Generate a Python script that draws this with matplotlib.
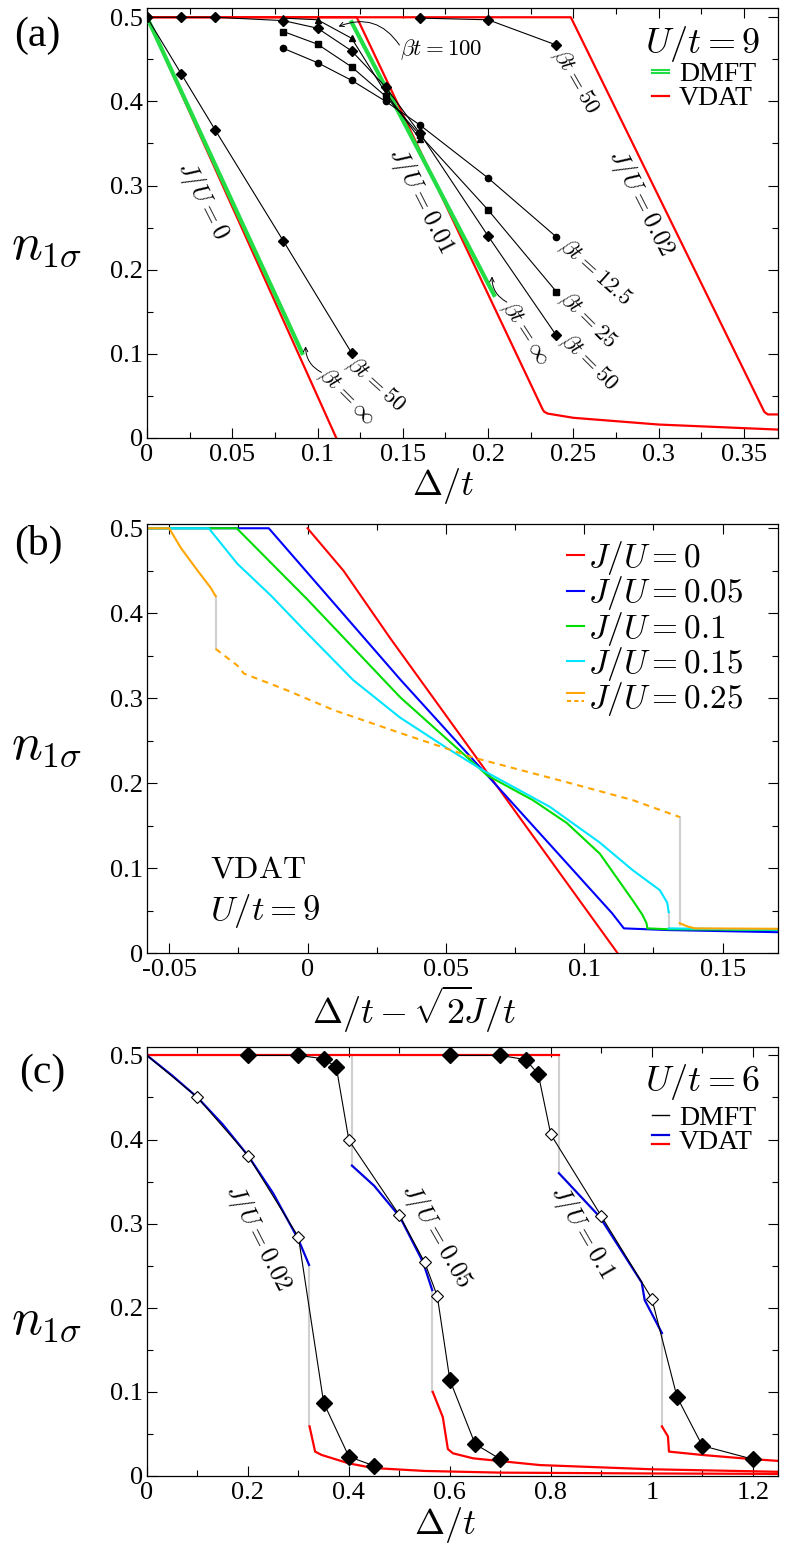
import numpy as np
import matplotlib
matplotlib.use('Agg')
import matplotlib.pyplot as plt
from matplotlib.lines import Line2D
from matplotlib.legend_handler import HandlerBase
from matplotlib.ticker import MultipleLocator, FuncFormatter

plt.rcParams['font.family'] = ['Liberation Serif', 'DejaVu Serif']
plt.rcParams['mathtext.fontset'] = 'cm'

# ---------------- panel (a): U/t = 9 ----------------
# VDAT
a_vdat_0_x = [0.0, 0.111]
a_vdat_0_y = [0.5, 0.0]
a_vdat_001_x = [0.0, 0.123, 0.232, 0.233, 0.235, 0.25, 0.3, 0.37]
a_vdat_001_y = [0.5, 0.5, 0.034, 0.031, 0.029, 0.024, 0.016, 0.010]
a_vdat_002_x = [0.0, 0.2485, 0.362, 0.364, 0.37]
a_vdat_002_y = [0.5, 0.5, 0.031, 0.028, 0.028]
# DMFT beta t = inf
a_dmft_inf_0_x = [0.0, 0.091]
a_dmft_inf_0_y = [0.5, 0.101]
a_dmft_inf_001_x = [0.12, 0.2035]
a_dmft_inf_001_y = [0.494, 0.170]
# DMFT finite temperature
a_b50_0_x = [0.0, 0.02, 0.04, 0.08, 0.12]
a_b50_0_y = [0.5, 0.433, 0.366, 0.234, 0.101]
a_b50_001_x = [0.0, 0.02, 0.04, 0.08, 0.10, 0.12, 0.14, 0.16, 0.20, 0.24]
a_b50_001_y = [0.5, 0.5, 0.5, 0.496, 0.487, 0.460, 0.417, 0.362, 0.240, 0.122]
a_b25_001_x = [0.08, 0.10, 0.12, 0.14, 0.16, 0.20, 0.24]
a_b25_001_y = [0.483, 0.468, 0.441, 0.406, 0.360, 0.271, 0.174]
a_b125_001_x = [0.08, 0.10, 0.12, 0.14, 0.16, 0.20, 0.24]
a_b125_001_y = [0.463, 0.446, 0.425, 0.400, 0.372, 0.309, 0.239]
a_b100_001_x = [0.08, 0.10, 0.12, 0.14, 0.16]
a_b100_001_y = [0.499, 0.497, 0.475, 0.410, 0.355]
a_b50_002_x = [0.16, 0.20, 0.24]
a_b50_002_y = [0.499, 0.497, 0.467]

# ---------------- panel (b): VDAT, U/t = 9 ----------------
b_red_x = [0.0, 0.013, 0.03, 0.112]
b_red_y = [0.5, 0.45, 0.37, 0.0]
b_blue_x = [-0.06, -0.014, 0.0335, 0.065, 0.110, 0.1143, 0.13, 0.17]
b_blue_y = [0.5, 0.5, 0.322, 0.209, 0.047, 0.029, 0.027, 0.0245]
b_green_x = [-0.06, -0.0256, 0.0, 0.0335, 0.065, 0.0814, 0.0937, 0.1056, 0.1175,
             0.121, 0.1225, 0.1228, 0.13, 0.17]
b_green_y = [0.5, 0.5, 0.416, 0.301, 0.209, 0.180, 0.153, 0.117, 0.062,
             0.045, 0.035, 0.029, 0.028, 0.027]
b_cyan_x = [-0.06, -0.0357, -0.0253, -0.0133, 0.0, 0.0166, 0.0335, 0.0505, 0.0634,
            0.0876, 0.1056, 0.1175, 0.1273, 0.130, 0.1305]
b_cyan_y = [0.5, 0.5, 0.458, 0.421, 0.376, 0.321, 0.277, 0.241, 0.215,
            0.172, 0.130, 0.0975, 0.074, 0.059, 0.048]
b_cyan_tail_x = [0.1305, 0.17]
b_cyan_tail_y = [0.029, 0.0275]
b_or_top_x = [-0.06, -0.050, -0.0458, -0.0397, -0.035, -0.0332]
b_or_top_y = [0.5, 0.5, 0.477, 0.450, 0.430, 0.420]
b_or_mid_x = [-0.0332, -0.0252, -0.023, -0.0072, 0.0094, 0.0335, 0.060, 0.0937, 0.1175, 0.1345]
b_or_mid_y = [0.358, 0.338, 0.329, 0.309, 0.286, 0.259, 0.230, 0.201, 0.180, 0.160]
b_or_low_x = [0.1345, 0.1375, 0.14, 0.17]
b_or_low_y = [0.035, 0.031, 0.029, 0.0285]
b_jumps = [(0.1305, 0.048, 0.029), (-0.0332, 0.420, 0.358), (0.1345, 0.160, 0.033)]

# ---------------- panel (c): U/t = 6 ----------------
c_red_top_x = [0.0, 0.816]
c_red_top_y = [0.5, 0.5]
c_blue_002_x = [0.0, 0.05, 0.1, 0.15, 0.2, 0.25, 0.3, 0.321]
c_blue_002_y = [0.5, 0.476, 0.450, 0.418, 0.381, 0.336, 0.281, 0.251]
c_red_002_x = [0.322, 0.333, 0.346, 0.4, 0.448, 0.55, 0.7, 1.0, 1.25]
c_red_002_y = [0.059, 0.029, 0.025, 0.015, 0.0095, 0.006, 0.004, 0.003, 0.0025]
c_blue_005_x = [0.406, 0.45, 0.501, 0.547, 0.565]
c_blue_005_y = [0.369, 0.345, 0.308, 0.254, 0.221]
c_red_005_x = [0.566, 0.586, 0.596, 0.606, 0.646, 0.778, 1.0, 1.25]
c_red_005_y = [0.1, 0.070, 0.032, 0.027, 0.021, 0.013, 0.008, 0.005]
c_blue_01_x = [0.816, 0.897, 0.980, 0.986, 1.020]
c_blue_01_y = [0.360, 0.308, 0.230, 0.209, 0.170]
c_red_01_x = [1.020, 1.032, 1.034, 1.1, 1.2, 1.25]
c_red_01_y = [0.059, 0.047, 0.029, 0.025, 0.020, 0.018]
c_jumps = [(0.321, 0.251, 0.059), (0.406, 0.5, 0.369), (0.565, 0.221, 0.1),
           (0.816, 0.5, 0.360), (1.020, 0.170, 0.059)]
# DMFT (open = points near the VDAT paramagnetic branch)
c_d002_x = [0.0, 0.1, 0.2, 0.3, 0.35, 0.4, 0.45]
c_d002_y = [0.5, 0.45, 0.381, 0.284, 0.087, 0.023, 0.012]
c_d002_open = [1, 2, 3]
c_d002_fill = [4, 5, 6]
c_d005_x = [0.2, 0.3, 0.35, 0.375, 0.4, 0.5, 0.55, 0.575, 0.6, 0.65, 0.7]
c_d005_y = [0.5, 0.5, 0.496, 0.486, 0.399, 0.31, 0.254, 0.214, 0.114, 0.038, 0.020]
c_d005_open = [4, 5, 6, 7]
c_d005_fill = [0, 1, 2, 3, 8, 9, 10]
c_d01_x = [0.6, 0.7, 0.75, 0.775, 0.8, 0.9, 1.0, 1.05, 1.1, 1.2]
c_d01_y = [0.5, 0.5, 0.495, 0.478, 0.406, 0.309, 0.211, 0.094, 0.036, 0.020]
c_d01_open = [4, 5, 6]
c_d01_fill = [0, 1, 2, 3, 7, 8, 9]


class StackHandler(HandlerBase):
    # draws the lines of a tuple handle one above the other
    def __init__(self, gap):
        HandlerBase.__init__(self)
        self.gap = gap

    def create_artists(self, legend, orig_handle, xdescent, ydescent, width,
                       height, fontsize, trans):
        n = len(orig_handle)
        arts = []
        for i, h in enumerate(orig_handle):
            yy = height / 2.0 - ydescent + ((n - 1) / 2.0 - i) * self.gap
            ln = Line2D([-xdescent, width - xdescent], [yy, yy])
            ln.update_from(h)
            ln.set_transform(trans)
            arts.append(ln)
        return arts


fmt = FuncFormatter(lambda v, p: '%g' % round(v, 4))


def style(ax, xmaj, xmin, xlim, ylim):
    ax.set_xlim(*xlim)
    ax.set_ylim(*ylim)
    ax.xaxis.set_major_locator(MultipleLocator(xmaj))
    ax.xaxis.set_minor_locator(MultipleLocator(xmin))
    ax.yaxis.set_major_locator(MultipleLocator(0.1))
    ax.yaxis.set_minor_locator(MultipleLocator(0.05))
    ax.xaxis.set_major_formatter(fmt)
    ax.yaxis.set_major_formatter(fmt)
    ax.tick_params(which='both', direction='in', top=True, right=True, width=0.8)
    ax.tick_params(which='major', length=7.5, labelsize=19)
    ax.tick_params(axis='x', which='major', pad=4)
    ax.tick_params(axis='y', which='major', pad=3)
    ax.tick_params(which='minor', length=4)
    for s in ax.spines.values():
        s.set_linewidth(0.9)


fig = plt.figure(figsize=(7.88, 15.59), dpi=100)
L, W = 147 / 788., 631 / 788.
JFS, BFS, XFS = 18, 16.5, 26

# ================= (a) =================
ax = fig.add_axes([L, 1 - 438 / 1559., W, 430 / 1559.])
style(ax, 0.05, 0.025, (0, 0.37), (0, 0.511))
red, grn = '#ff0000', '#22dd44'
ax.plot(a_vdat_0_x, a_vdat_0_y, color=red, lw=1.6, zorder=2)
ax.plot(a_vdat_001_x, a_vdat_001_y, color=red, lw=1.6, zorder=2)
ax.plot(a_vdat_002_x, a_vdat_002_y, color=red, lw=1.6, zorder=2)
ax.plot(a_dmft_inf_0_x, a_dmft_inf_0_y, color=grn, lw=3, zorder=3)
ax.plot(a_dmft_inf_001_x, a_dmft_inf_001_y, color=grn, lw=3, zorder=3)
kw = dict(color='k', lw=0.8, zorder=4)
ax.plot(a_b50_0_x, a_b50_0_y, marker='D', ms=5.5, **kw)
ax.plot(a_b125_001_x, a_b125_001_y, marker='o', ms=4.5, **kw)
ax.plot(a_b25_001_x, a_b25_001_y, marker='s', ms=4, **kw)
ax.plot(a_b100_001_x, a_b100_001_y, marker='^', ms=4.5, **kw)
ax.plot(a_b50_001_x, a_b50_001_y, marker='D', ms=5.5, **kw)
ax.plot(a_b50_002_x, a_b50_002_y, marker='D', ms=5.5, **kw)

ax.text(0.033, 0.283, r'$J/U=0$', fontsize=JFS, rotation=-63, ha='center', va='center')
ax.text(0.161, 0.283, r'$J/U=0.01$', fontsize=JFS, rotation=-63, ha='center', va='center')
ax.text(0.290, 0.280, r'$J/U=0.02$', fontsize=JFS, rotation=-63, ha='center', va='center')
ax.text(0.1725, 0.461, r'$\beta t=100$', fontsize=BFS, ha='center', va='center')
ax.text(0.251, 0.424, r'$\beta t=50$', fontsize=BFS, rotation=-60, ha='center', va='center')
ax.text(0.2626, 0.197, r'$\beta t=12.5$', fontsize=BFS, rotation=-42, ha='center', va='center')
ax.text(0.2585, 0.140, r'$\beta t=25$', fontsize=BFS, rotation=-45, ha='center', va='center')
ax.text(0.259, 0.090, r'$\beta t=50$', fontsize=BFS, rotation=-45, ha='center', va='center')
ax.text(0.222, 0.125, r'$\beta t=\infty$', fontsize=BFS, rotation=-57, ha='center', va='center')
ax.text(0.134, 0.063, r'$\beta t=50$', fontsize=BFS, rotation=-42, ha='center', va='center')
ax.text(0.117, 0.050, r'$\beta t=\infty$', fontsize=BFS, rotation=-45, ha='center', va='center')
akw = dict(arrowstyle='->', lw=0.7, color='k', shrinkA=0, shrinkB=0, mutation_scale=8)
ax.annotate('', xy=(0.1123, 0.489), xytext=(0.148, 0.467),
            arrowprops=dict(connectionstyle='arc3,rad=0.4', **akw))
ax.annotate('', xy=(0.2023, 0.192), xytext=(0.211, 0.1615),
            arrowprops=dict(connectionstyle='arc3,rad=-0.3', **akw))
ax.annotate('', xy=(0.093, 0.109), xytext=(0.1023, 0.078),
            arrowprops=dict(connectionstyle='arc3,rad=-0.3', **akw))
ax.text(0.971, 0.916, r'$U/t=9$', fontsize=26, ha='right', va='center', transform=ax.transAxes)
hg = Line2D([], [], color=grn, lw=1.5)
hr = Line2D([], [], color=red, lw=1.6)
ax.legend([(hg, hg), hr], ['DMFT', 'VDAT'], handler_map={tuple: StackHandler(2.4)},
          loc='upper left', bbox_to_anchor=(0.80, 0.875), frameon=False, fontsize=20,
          handlelength=0.62, handletextpad=0.35, labelspacing=-0.05, borderpad=0,
          borderaxespad=0)
ax.set_xlabel(r'$\Delta/t$', fontsize=XFS)
ax.xaxis.set_label_coords(0.469, -0.066)

# ================= (b) =================
ax = fig.add_axes([L, 1 - 953 / 1559., W, 429 / 1559.])
style(ax, 0.05, 0.025, (-0.058, 0.17), (0, 0.505))
gray = '#d0d0d0'
blu, gb, cy, org = '#0000ff', '#00dd00', '#00e5ff', '#ffa500'
for xj, y1, y2 in b_jumps:
    ax.plot([xj, xj], [y1, y2], color=gray, lw=1.5, zorder=1)
ax.plot(b_red_x, b_red_y, color=red, lw=1.5)
ax.plot(b_blue_x, b_blue_y, color=blu, lw=1.5)
ax.plot(b_green_x, b_green_y, color=gb, lw=1.5)
ax.plot(b_cyan_x, b_cyan_y, color=cy, lw=1.5)
ax.plot(b_cyan_tail_x, b_cyan_tail_y, color=cy, lw=1.5)
ax.plot(b_or_top_x, b_or_top_y, color=org, lw=1.5)
ax.plot(b_or_mid_x, b_or_mid_y, color=org, lw=1.5, ls=(0, (3, 2.5)))
ax.plot(b_or_low_x, b_or_low_y, color=org, lw=1.5)
h = [Line2D([], [], color=c, lw=1.5) for c in (red, blu, gb, cy)]
ho = (Line2D([], [], color=org, lw=1.5), Line2D([], [], color=org, lw=1.5, ls=(0, (2, 1.5))))
ax.legend(h + [ho], [r'$J/U=0$', r'$J/U=0.05$', r'$J/U=0.1$', r'$J/U=0.15$', r'$J/U=0.25$'],
          handler_map={tuple: StackHandler(5.5)}, loc='upper left',
          bbox_to_anchor=(0.666, 0.965), frameon=False, fontsize=24,
          handlelength=0.5, handletextpad=0.12, labelspacing=-0.08, borderpad=0,
          borderaxespad=0)
ax.text(0.0997, 0.175, r'$\mathrm{VDAT}$', fontsize=23, ha='left', va='baseline',
        transform=ax.transAxes)
ax.text(0.0997, 0.077, r'$U/t=9$', fontsize=25, ha='left', va='baseline',
        transform=ax.transAxes)
ax.set_xlabel(r'$\Delta/t-\sqrt{2}\!J/t$', fontsize=XFS)
ax.xaxis.set_label_coords(0.423, -0.072)

# ================= (c) =================
ax = fig.add_axes([L, 1 - 1476 / 1559., W, 429 / 1559.])
style(ax, 0.2, 0.1, (0, 1.25), (0, 0.51))
bc = '#0000dd'
for xj, y1, y2 in c_jumps:
    ax.plot([xj, xj], [y1, y2], color=gray, lw=1.5, zorder=1)
ax.plot(c_red_top_x, c_red_top_y, color=red, lw=1.6)
ax.plot(c_red_002_x, c_red_002_y, color=red, lw=1.6)
ax.plot(c_red_005_x, c_red_005_y, color=red, lw=1.6)
ax.plot(c_red_01_x, c_red_01_y, color=red, lw=1.6)
ax.plot(c_blue_002_x, c_blue_002_y, color=bc, lw=1.6)
ax.plot(c_blue_005_x, c_blue_005_y, color=bc, lw=1.6)
ax.plot(c_blue_01_x, c_blue_01_y, color=bc, lw=1.6)
for xs, ys, op, fi in [(c_d002_x, c_d002_y, c_d002_open, c_d002_fill),
                       (c_d005_x, c_d005_y, c_d005_open, c_d005_fill),
                       (c_d01_x, c_d01_y, c_d01_open, c_d01_fill)]:
    xs, ys = np.array(xs), np.array(ys)
    ax.plot(xs, ys, color='k', lw=0.8, zorder=4)
    ax.plot(xs[op], ys[op], ls='none', marker='D', ms=6, mfc='white', mec='k', mew=0.8, zorder=5)
    ax.plot(xs[fi], ys[fi], ls='none', marker='D', ms=8, color='k', zorder=5)
ax.text(0.22, 0.284, r'$J/U=0.02$', fontsize=JFS, rotation=-63, ha='center', va='center')
ax.text(0.574, 0.286, r'$J/U=0.05$', fontsize=JFS, rotation=-60, ha='center', va='center')
ax.text(0.863, 0.290, r'$J/U=0.1$', fontsize=JFS, rotation=-60, ha='center', va='center')
ax.text(0.971, 0.918, r'$U/t=6$', fontsize=26, ha='right', va='center', transform=ax.transAxes)
hk = Line2D([], [], color='k', lw=1.0)
hb = Line2D([], [], color=bc, lw=1.6)
hr2 = Line2D([], [], color=red, lw=1.6)
ax.legend([hk, (hb, hr2)], ['DMFT', 'VDAT'], handler_map={tuple: StackHandler(6.0)},
          loc='upper left', bbox_to_anchor=(0.80, 0.863), frameon=False, fontsize=20,
          handlelength=0.62, handletextpad=0.35, labelspacing=-0.05, borderpad=0,
          borderaxespad=0)
ax.set_xlabel(r'$\Delta/t$', fontsize=XFS)
ax.xaxis.set_label_coords(0.472, -0.068)

# panel letters and y labels
for lab, xp, yp in [('(a)', 14, 36), ('(b)', 14, 544), ('(c)', 19, 1073)]:
    fig.text(xp / 788., 1 - yp / 1559., lab, fontsize=30, ha='left', va='center')
for yp in (247, 747, 1322):
    fig.text(11 / 788., 1 - yp / 1559., r'$n_{1\sigma}$', fontsize=37, ha='left', va='center')

fig.savefig('out.png', dpi=100)
